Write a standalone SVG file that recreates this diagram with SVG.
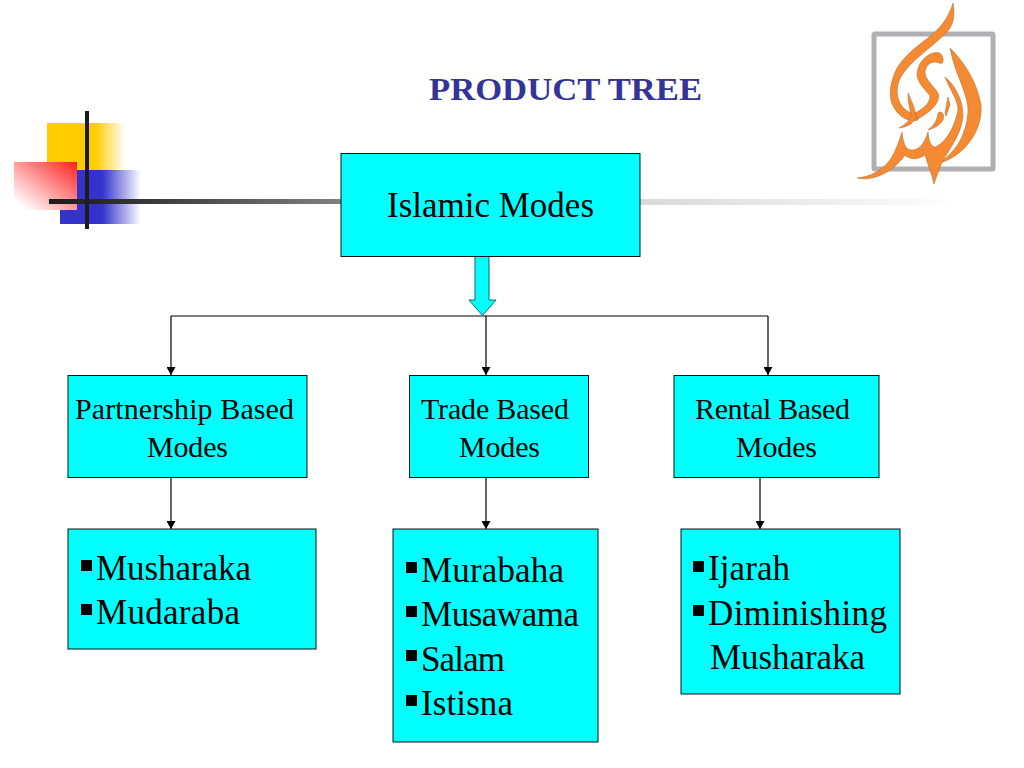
<svg xmlns="http://www.w3.org/2000/svg" width="1024" height="768" viewBox="0 0 1024 768">
<style>
text{font-family:"Liberation Serif","Times New Roman",serif;fill:#000}
.box{fill:#00ffff;stroke:#111;stroke-width:1}
.t2{font-size:30px}
.t3{font-size:35px}
.line{fill:none;stroke:#000;stroke-width:1.2}
.bul{fill:#000}
.cal{fill:#f58a33;stroke:#a8682c;stroke-width:.5}
</style>
<defs>
<marker id="ah" markerUnits="userSpaceOnUse" markerWidth="9" markerHeight="9" refX="8" refY="4.500" orient="auto"><path d="M0,0L8,4.500L0,9Z" fill="#000"/></marker>
<linearGradient id="gy" x1="0" x2="1" y1="0" y2="0"><stop offset="0" stop-color="#ffcc00"/><stop offset=".62" stop-color="#ffcc00"/><stop offset="1" stop-color="#ffcc00" stop-opacity="0"/></linearGradient>
<linearGradient id="gb" x1="0" x2="1" y1="0" y2="0"><stop offset="0" stop-color="#3333cc"/><stop offset=".52" stop-color="#3333cc"/><stop offset="1" stop-color="#3333cc" stop-opacity="0"/></linearGradient>
<linearGradient id="gr" x1="1" x2="0" y1="0" y2="1"><stop offset="0" stop-color="#ff2020"/><stop offset=".9" stop-color="#ffffff"/><stop offset="1" stop-color="#ffffff"/></linearGradient>
<linearGradient id="gl" x1="0" x2="1" y1="0" y2="0"><stop offset="0" stop-color="#1c1c1c"/><stop offset=".2" stop-color="#2a2a2a"/><stop offset="1" stop-color="#808080"/></linearGradient>
<linearGradient id="gl2" x1="0" x2="1" y1="0" y2="0"><stop offset="0" stop-color="#d8d8d8"/><stop offset="1" stop-color="#ffffff"/></linearGradient>
</defs>
<g id="decoration">
<rect x="47" y="123" width="78" height="48" fill="url(#gy)"/>
<rect x="60" y="170" width="81" height="54" fill="url(#gb)"/>
<rect x="14" y="162" width="63" height="48" fill="url(#gr)"/>
<rect x="49" y="199" width="292" height="5" fill="url(#gl)"/>
<rect x="640" y="199" width="325" height="6" fill="url(#gl2)"/>
<rect x="85" y="111" width="4" height="118" fill="#1c1c1c"/>
</g>
<g id="logo">
<rect x="874" y="34" width="119" height="135" fill="#fff" stroke="#b0b0b4" stroke-width="5" rx="1"/>
<g class="cal">
<path d="M953,3C956,18 952,28 945,34C932,47 912,60 902,75C896,85 896,95 900,103C904,110 910,114 916,113L918,120C908,123 898,116 893,106C888,96 890,82 897,68C908,50 925,42 937,30C945,22 950,13 953,3Z"/>
<path d="M921,62C927,54 936,50 941,54C945,60 943,65 939,63C933,60 926,64 925,72C925,80 934,86 938,93C941,100 934,110 918,119L915,113C925,108 930,102 930,96C926,90 918,84 917,75C917,70 919,65 921,62Z"/>
<path d="M908,93L914,107L916,115C915,123 908,127 899,128C906,124 911,120 911,113C909,108 908,100 908,93Z"/>
<path d="M950,48C962,60 977,80 981,105C983,125 970,152 943,162L942,161C957,150 966,135 968,112C969,95 955,75 950,48Z"/>
<path d="M857,178C870,177 885,170 893,155C898,145 900,138 902,132C903,142 905,150 912,150C920,150 925,142 928,132C929,140 930,147 936,147C948,140 955,125 958,110C958,100 950,90 945,77C955,85 963,100 963,115C962,135 948,150 941,165C938,172 936,178 934,184C932,175 928,165 925,155C918,160 910,160 905,155C895,170 875,182 857,178Z"/>
<path d="M938,113C942,110 945,115 943,120C940,125 935,128 928,130C933,126 937,122 938,113Z"/>
<path d="M948,97L950,105L946,116L945,113Z"/>
</g>
</g>
<text id="title" x="429" y="100" font-size="32.500" font-weight="bold" textLength="273" lengthAdjust="spacingAndGlyphs" style="fill:#333399">PRODUCT TREE</text>
<g id="connectors">
<path class="line" d="M171,316H768"/>
<path class="line" d="M171,316V375" marker-end="url(#ah)"/>
<path class="line" d="M486,316V375" marker-end="url(#ah)"/>
<path class="line" d="M768,316V375" marker-end="url(#ah)"/>
<path class="line" d="M171,478V529" marker-end="url(#ah)"/>
<path class="line" d="M486,478V529" marker-end="url(#ah)"/>
<path class="line" d="M760,478V529" marker-end="url(#ah)"/>
<path d="M475,256H489V300H496L482.500,315.500L469,300H475Z" fill="#00ffff" stroke="#0b6b6b" stroke-width="1"/>
</g>
<g id="root"><rect class="box" x="341" y="153.500" width="299" height="103"/>
<text class="t3" x="387" y="217" textLength="207">Islamic Modes</text></g>
<g id="partnership"><rect class="box" x="68" y="375.500" width="239" height="102"/>
<text class="t2" x="75" y="418.500" textLength="219">Partnership Based</text>
<text class="t2" x="147" y="456.500" textLength="81">Modes</text></g>
<g id="trade"><rect class="box" x="409.500" y="375.500" width="179" height="102"/>
<text class="t2" x="421" y="418.500" textLength="148">Trade Based</text>
<text class="t2" x="459" y="456.500" textLength="81">Modes</text></g>
<g id="rental"><rect class="box" x="674" y="375.500" width="205" height="102"/>
<text class="t2" x="695" y="418.500" textLength="155">Rental Based</text>
<text class="t2" x="736" y="456.500" textLength="81">Modes</text></g>
<g id="partnership-list"><rect class="box" x="68" y="529" width="248" height="120"/>
<rect class="bul" x="81" y="560" width="11" height="11"/><text class="t3" x="96" y="580" textLength="155">Musharaka</text>
<rect class="bul" x="81" y="604" width="11" height="11"/><text class="t3" x="96" y="624" textLength="144">Mudaraba</text></g>
<g id="trade-list"><rect class="box" x="393" y="529" width="205" height="213"/>
<rect class="bul" x="406" y="562" width="11" height="11"/><text class="t3" x="421" y="582" textLength="143">Murabaha</text>
<rect class="bul" x="406" y="606" width="11" height="11"/><text class="t3" x="421" y="626" textLength="158">Musawama</text>
<rect class="bul" x="406" y="650" width="11" height="11"/><text class="t3" x="421" y="671" textLength="84">Salam</text>
<rect class="bul" x="406" y="695" width="11" height="11"/><text class="t3" x="421" y="715" textLength="92">Istisna</text></g>
<g id="rental-list"><rect class="box" x="681" y="529" width="219" height="165"/>
<rect class="bul" x="693" y="561" width="11" height="11"/><text class="t3" x="708" y="580" textLength="82">Ijarah</text>
<rect class="bul" x="693" y="605" width="11" height="11"/><text class="t3" x="708" y="625" textLength="179">Diminishing</text>
<text class="t3" x="710" y="669" textLength="155">Musharaka</text></g>
</svg>
